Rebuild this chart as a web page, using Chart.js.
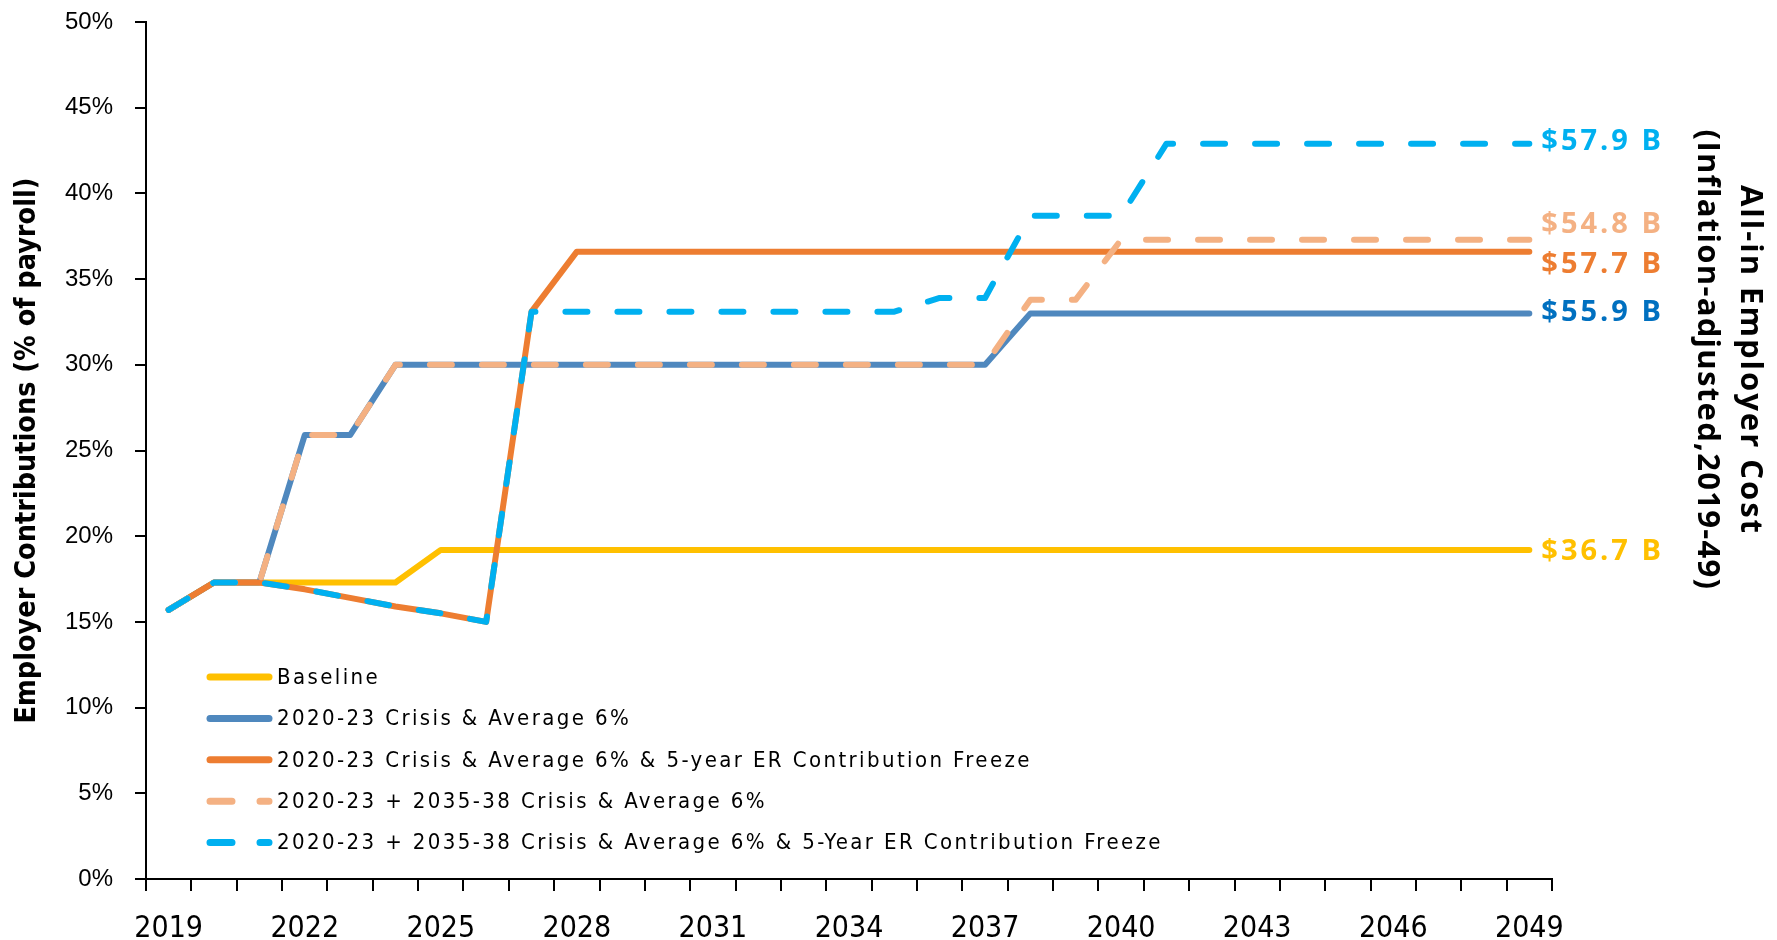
<!DOCTYPE html>
<html>
<head>
<meta charset="utf-8">
<script src="https://cdn.jsdelivr.net/npm/chart.js@4.4.1/dist/chart.umd.min.js"></script>
<style>
  html, body { margin: 0; padding: 0; background: #fff; }
  #wrap { width: 1777px; height: 940px; }
</style>
</head>
<body>
<div id="wrap"><canvas id="chart" width="1777" height="940"></canvas></div>
<script>
// categories
const years = ['2019','2020','2021','2022','2023','2024','2025','2026','2027','2028',
  '2029','2030','2031','2032','2033','2034','2035','2036','2037','2038',
  '2039','2040','2041','2042','2043','2044','2045','2046','2047','2048','2049'];

// employer contributions, % of payroll
const baseline = [15.7, 17.3, 17.3, 17.3, 17.3, 17.3, 19.2, 19.2, 19.2, 19.2,
  19.2, 19.2, 19.2, 19.2, 19.2, 19.2, 19.2, 19.2, 19.2, 19.2,
  19.2, 19.2, 19.2, 19.2, 19.2, 19.2, 19.2, 19.2, 19.2, 19.2, 19.2];
const crisis = [15.7, 17.3, 17.3, 25.9, 25.9, 30.0, 30.0, 30.0, 30.0, 30.0,
  30.0, 30.0, 30.0, 30.0, 30.0, 30.0, 30.0, 30.0, 30.0, 33.0,
  33.0, 33.0, 33.0, 33.0, 33.0, 33.0, 33.0, 33.0, 33.0, 33.0, 33.0];
const crisisFreeze = [15.7, 17.3, 17.3, 16.9, 16.4, 15.9, 15.5, 15.0, 33.1, 36.6,
  36.6, 36.6, 36.6, 36.6, 36.6, 36.6, 36.6, 36.6, 36.6, 36.6,
  36.6, 36.6, 36.6, 36.6, 36.6, 36.6, 36.6, 36.6, 36.6, 36.6, 36.6];
const twoCrises = [15.7, 17.3, 17.3, 25.9, 25.9, 30.0, 30.0, 30.0, 30.0, 30.0,
  30.0, 30.0, 30.0, 30.0, 30.0, 30.0, 30.0, 30.0, 30.0, 33.8,
  33.8, 37.3, 37.3, 37.3, 37.3, 37.3, 37.3, 37.3, 37.3, 37.3, 37.3];
const twoCrisesFreeze = [15.7, 17.3, 17.3, 16.9, 16.4, 15.9, 15.5, 15.0, 33.1, 33.1,
  33.1, 33.1, 33.1, 33.1, 33.1, 33.1, 33.1, 33.9, 33.9, 38.7,
  38.7, 38.7, 42.9, 42.9, 42.9, 42.9, 42.9, 42.9, 42.9, 42.9, 42.9];

const seriesNames = [
  'Baseline',
  '2020-23 Crisis & Average 6%',
  '2020-23 Crisis & Average 6% & 5-year ER Contribution Freeze',
  '2020-23 + 2035-38 Crisis & Average 6%',
  '2020-23 + 2035-38 Crisis & Average 6% & 5-Year ER Contribution Freeze'
];
// all-in employer cost at the end of each line
const endLabels = ['$36.7 B', '$55.9 B', '$57.7 B', '$54.8 B', '$57.9 B'];

const lineColors = ['#FFC000', '#4F88BE', '#ED7D31', '#F4B183', '#00B0F0'];
const labelColors = ['#FFC000', '#0070C0', '#ED7D31', '#F4B183', '#00B0F0'];
const labelShift = [2, -1, 13, -15, -2];

const CONDENSED = '"Liberation Sans Narrow", "DejaVu Sans Condensed", sans-serif';

Chart.defaults.color = '#000';
Chart.defaults.font.family = '"Liberation Sans", Arial, sans-serif';

function makeSet(label, data, i, dashed, order) {
  return {
    label: label,
    data: data,
    borderColor: lineColors[i],
    backgroundColor: lineColors[i],
    borderWidth: 6,
    borderDash: dashed ? [22, 30] : [],
    borderCapStyle: 'round',
    borderJoinStyle: 'round',
    pointRadius: 0,
    tension: 0,
    fill: false,
    order: order
  };
}

const overlay = {
  id: 'overlay',
  afterDatasetsDraw(chart) {
    const ctx = chart.ctx;
    // labels at the end of the lines
    chart.data.datasets.forEach((ds, i) => {
      const meta = chart.getDatasetMeta(i);
      const pt = meta.data[meta.data.length - 1];
      ctx.save();
      ctx.font = 'bold 29px "Open Sans"';
      ctx.letterSpacing = '3px';
      ctx.fillStyle = labelColors[i];
      ctx.textBaseline = 'middle';
      ctx.textAlign = 'left';
      ctx.fillText(endLabels[i], pt.x + 12, pt.y + labelShift[i]);
      ctx.restore();
    });

    // legend, bottom left inside the plot
    chart.data.datasets.forEach((ds, i) => {
      const y = 677 + i * 41.4;
      ctx.save();
      ctx.strokeStyle = ds.borderColor;
      ctx.lineWidth = 7;
      ctx.lineCap = 'round';
      ctx.setLineDash(ds.borderDash.length ? [22, 28] : []);
      ctx.beginPath();
      ctx.moveTo(210, y);
      ctx.lineTo(269, y);
      ctx.stroke();
      ctx.setLineDash([]);
      ctx.font = '22px "DejaVu Sans Condensed", "Liberation Sans"';
      ctx.letterSpacing = '2.4px';
      ctx.fillStyle = '#000';
      ctx.textBaseline = 'middle';
      ctx.fillText(ds.label, 277, y + 1);
      ctx.restore();
    });

    // right-hand title
    ctx.save();
    ctx.font = 'bold 31px "Open Sans"';
    ctx.fillStyle = '#000';
    ctx.textAlign = 'center';
    ctx.textBaseline = 'middle';
    ctx.translate(1750, 360);
    ctx.rotate(Math.PI / 2);
    ctx.letterSpacing = '2px';
    ctx.fillText('All-in Employer Cost', 0, 0);
    ctx.letterSpacing = '1.3px';
    ctx.fillText('(Inflation-adjusted,2019-49)', 0, 43);
    ctx.restore();
  }
};

new Chart(document.getElementById('chart'), {
  type: 'line',
  data: {
    labels: years,
    datasets: [
      makeSet(seriesNames[0], baseline, 0, false, 5),
      makeSet(seriesNames[1], crisis, 1, false, 4),
      makeSet(seriesNames[2], crisisFreeze, 2, false, 3),
      makeSet(seriesNames[3], twoCrises, 3, true, 2),
      makeSet(seriesNames[4], twoCrisesFreeze, 4, true, 1)
    ]
  },
  options: {
    responsive: false,
    animation: false,
    devicePixelRatio: 1,
    layout: { padding: { left: 0, right: 225, top: 22, bottom: 0 } },
    plugins: {
      legend: { display: false },
      tooltip: { enabled: false }
    },
    scales: {
      x: {
        offset: true,
        grid: { offset: true, drawOnChartArea: false, tickLength: 12, color: '#000', lineWidth: 2 },
        border: { color: '#000', width: 2 },
        ticks: {
          autoSkip: false,
          maxRotation: 0,
          minRotation: 0,
          padding: 20,
          font: { family: CONDENSED, size: 30 },
          callback: function (v, i) { return i % 3 === 0 ? this.getLabelForValue(v) : ''; }
        },
        afterFit: function (s) { s.height = 61; }
      },
      y: {
        min: 0,
        max: 50,
        grid: { drawOnChartArea: false, tickLength: 11, color: '#000', lineWidth: 2 },
        border: { color: '#000', width: 2 },
        ticks: {
          stepSize: 5,
          padding: 22,
          font: { size: 24 },
          callback: v => v + '%'
        },
        title: {
          display: true,
          text: 'Employer Contributions (% of payroll)',
          font: { family: CONDENSED, size: 28.5, weight: 'bold' },
          padding: { top: 10, bottom: 0 }
        },
        afterFit: function (s) {
          s.width = 146;
          s.paddingTop = 0;
          s.paddingBottom = 0;
        }
      }
    }
  },
  plugins: [overlay]
});
</script>
</body>
</html>
